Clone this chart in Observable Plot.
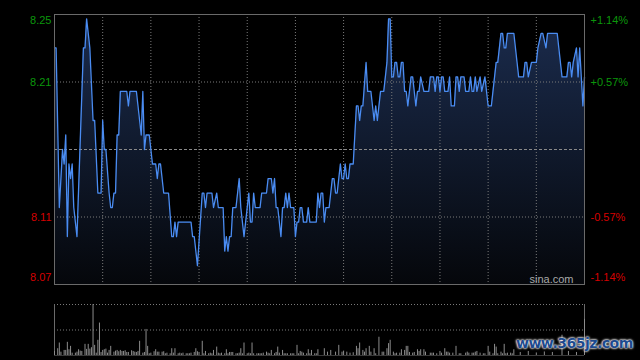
<!DOCTYPE html>
<html>
<head>
<meta charset="utf-8">
<script src="https://cdn.jsdelivr.net/npm/d3@7"></script>
<script src="https://cdn.jsdelivr.net/npm/@observablehq/plot@0.6"></script>
<style>
  html, body { margin: 0; padding: 0; background: #000; }
  #wrap { position: relative; width: 640px; height: 360px; background: #000; overflow: hidden; font-family: "Liberation Sans", Arial, sans-serif; }
  #price, #volume { position: absolute; left: 0; }
  #price { top: 0; }
  #volume { top: 290px; }
  #wm { position: absolute; left: 516px; top: 335px; font: bold 14px "DejaVu Sans", sans-serif; color: #1d4a8e;
        text-shadow: 0 0 2px #fff, 0 0 2px #fff, 0 0 3px #ddd; letter-spacing: -0.5px; white-space: nowrap; }
</style>
</head>
<body>
<div id="wrap">
  <div id="price"></div>
  <div id="volume"></div>
  <div id="wm">www.365jz.com</div>
</div>
<script>
// ---- data (HK session, minute index 0..330) ----
const prevClose = 8.16;
const pctLevels = [1.14, 0.57, -0.57, -1.14];
const priceTickLabels = ["8.25", "8.21", "8.11", "8.07"];
const pctTickLabels = ["+1.14%", "+0.57%", "-0.57%", "-1.14%"];
const gridMinutes = [30, 60, 90, 120, 150, 180, 210, 240, 270, 300];
const sessionMinutes = 330;

const minutes = [0,1,3,5,6,7,8,9,10,11,12,13,14,18,19,20,22,24,25,27,29,30,31,32,34,35,36,37,38,39,40,41,45,46,47,51,53,54,55,56,57,59,60,61,63,64,65,66,68,71,73,74,75,76,77,85,86,87,89,92,93,94,95,98,99,101,102,105,106,107,108,109,110,111,113,115,116,118,121,122,123,124,125,128,129,132,133,135,136,137,138,139,141,142,143,144,145,146,147,149,150,151,152,153,154,155,157,158,159,163,164,165,166,167,168,169,171,173,174,175,176,178,179,180,181,182,183,184,186,188,189,190,191,192,194,195,197,199,200,201,203,205,207,208,209,210,211,212,213,214,215,216,217,218,219,220,222,223,225,226,227,228,230,231,233,234,236,237,238,239,240,241,242,243,245,246,247,249,250,251,252,253,255,256,258,259,260,261,262,263,265,266,268,269,270,272,275,276,278,279,280,281,282,286,288,289,292,293,294,295,297,300,301,303,304,306,307,313,314,316,319,320,321,322,323,325,326,327,329,330];
const prices = [8.23,8.23,8.12,8.16,8.15,8.17,8.10,8.15,8.14,8.15,8.12,8.11,8.10,8.23,8.23,8.25,8.23,8.18,8.18,8.13,8.13,8.18,8.16,8.16,8.13,8.12,8.12,8.13,8.13,8.17,8.17,8.20,8.20,8.19,8.20,8.20,8.18,8.17,8.20,8.16,8.17,8.17,8.16,8.15,8.15,8.14,8.15,8.15,8.13,8.13,8.10,8.10,8.11,8.10,8.11,8.11,8.10,8.10,8.08,8.13,8.13,8.12,8.13,8.13,8.12,8.13,8.12,8.12,8.09,8.10,8.09,8.10,8.10,8.12,8.12,8.14,8.12,8.10,8.13,8.11,8.11,8.13,8.12,8.12,8.13,8.13,8.14,8.14,8.13,8.14,8.12,8.12,8.10,8.12,8.12,8.13,8.12,8.13,8.12,8.12,8.10,8.11,8.11,8.12,8.12,8.11,8.11,8.12,8.11,8.11,8.13,8.12,8.13,8.13,8.11,8.12,8.12,8.14,8.14,8.13,8.13,8.15,8.14,8.14,8.15,8.14,8.14,8.15,8.15,8.19,8.19,8.18,8.19,8.19,8.22,8.20,8.20,8.18,8.19,8.18,8.20,8.20,8.22,8.25,8.25,8.21,8.21,8.22,8.22,8.21,8.21,8.22,8.22,8.20,8.20,8.19,8.21,8.21,8.19,8.20,8.20,8.21,8.20,8.20,8.20,8.21,8.21,8.20,8.21,8.21,8.20,8.21,8.21,8.20,8.20,8.21,8.19,8.19,8.21,8.21,8.20,8.21,8.21,8.20,8.20,8.21,8.20,8.20,8.21,8.20,8.21,8.20,8.21,8.20,8.19,8.19,8.22,8.22,8.24,8.24,8.23,8.23,8.24,8.24,8.22,8.21,8.21,8.22,8.22,8.21,8.22,8.22,8.23,8.24,8.24,8.23,8.24,8.24,8.23,8.21,8.21,8.22,8.22,8.21,8.22,8.23,8.21,8.23,8.19,8.21];

// volume (thousand shares)
const volMinutes = [0,2,3,4,6,7,8,9,10,11,13,14,15,16,17,19,20,21,22,23,24,25,26,27,28,29,30,31,32,33,34,35,37,38,39,40,41,42,43,44,45,46,48,49,50,51,52,53,55,56,57,58,59,60,62,63,64,65,67,68,69,70,72,73,74,75,77,78,79,80,82,83,84,85,87,88,89,90,92,93,94,96,97,98,99,101,102,103,104,106,107,108,109,110,111,113,114,115,116,117,118,120,121,122,123,124,126,127,128,129,130,132,133,134,135,137,138,139,140,142,143,144,145,147,148,149,151,152,153,154,155,157,158,159,160,162,163,164,168,170,172,175,177,179,180,182,184,186,188,189,190,192,193,194,196,197,199,200,202,204,205,207,208,209,211,212,213,215,216,218,219,220,221,223,224,226,227,228,230,231,234,235,236,238,240,241,243,244,245,246,248,250,252,253,256,257,258,260,261,262,263,265,267,268,270,271,273,274,275,276,278,279,280,281,282,284,285,286,290,295,300,305,310,316,320,325,330];
const volumes = [80,134,246,66,100,100,260,114,180,46,46,66,114,86,80,220,120,220,126,154,1006,200,46,300,640,60,100,114,126,46,100,180,66,86,100,74,100,80,80,94,60,60,94,80,66,60,80,280,46,60,514,180,34,46,74,114,66,66,66,74,34,46,34,134,46,134,34,46,34,46,34,34,34,46,60,134,74,60,280,34,80,34,46,34,100,166,46,34,46,34,114,34,60,60,60,34,34,46,134,34,246,34,46,34,246,34,34,34,34,34,46,66,46,34,100,34,60,166,46,100,34,34,34,34,34,34,200,34,80,66,46,34,114,34,100,34,34,114,134,66,100,66,200,66,86,66,46,54,180,134,246,100,66,134,180,66,134,34,360,66,66,134,234,300,66,34,46,46,114,100,180,180,60,46,60,114,80,114,114,66,46,46,46,34,80,46,134,66,66,46,46,180,34,34,46,66,46,46,46,66,80,46,34,34,180,66,34,220,166,34,66,34,220,34,46,46,34,114,60,80,50,70,60,400,80,60,714];

// ---- derived tables ----
const priceData = minutes.map((m, i) => ({minute: m, price: prices[i]}));
const volData = volMinutes.map((m, i) => ({minute: m, vol: volumes[i]}));
const maxPct = pctLevels[0] / 100;
const yMin = prevClose * (1 - maxPct);
const yMax = prevClose * (1 + maxPct);
const levelData = pctLevels.map((p, i) => ({
  y: prevClose * (1 + p / 100),
  priceLabel: priceTickLabels[i],
  pctLabel: pctTickLabels[i],
  color: p > 0 ? "#0b960b" : "#d60000"
}));
const topLevel = levelData.slice(0, 1);
const midLevels = levelData.slice(1, -1);
const bottomLevel = levelData.slice(-1);
const innerLevels = midLevels.map(d => d.y);

const font = "Liberation Sans, Arial, sans-serif";

function levelLabels(data, dy) {
  return [
    Plot.text(data, {y: "y", text: "priceLabel", fill: "color", frameAnchor: "left", dx: -3, dy, textAnchor: "end", lineAnchor: "middle", fontSize: 11}),
    Plot.text(data, {y: "y", text: "pctLabel", fill: "color", frameAnchor: "right", dx: 6, dy, textAnchor: "start", lineAnchor: "middle", fontSize: 11})
  ];
}

const priceChart = Plot.plot({
  width: 640,
  height: 290,
  marginTop: 14,
  marginBottom: 6,
  marginLeft: 54,
  marginRight: 56,
  style: {background: "#000", color: "#fff", fontFamily: font, overflow: "visible"},
  x: {domain: [0, sessionMinutes], axis: null},
  y: {domain: [yMin, yMax], axis: null},
  marks: [
    Plot.areaY(priceData, {x: "minute", y1: yMin, y2: "price", fill: "url(#priceGrad)"}),
    Plot.ruleX(gridMinutes, {stroke: "#7a7a7a", strokeDasharray: "1,2"}),
    Plot.ruleY(innerLevels, {stroke: "#7a7a7a", strokeDasharray: "1,2"}),
    Plot.ruleY([prevClose], {stroke: "#8a8a8a", strokeDasharray: "3,2"}),
    Plot.line(priceData, {x: "minute", y: "price", stroke: "#4a8cf2", strokeWidth: 1.3}),
    Plot.frame({stroke: "#6a6a6a"}),
    ...levelLabels(topLevel, 6),
    ...levelLabels(midLevels, 0),
    ...levelLabels(bottomLevel, -7),
    Plot.text(["sina.com"], {frameAnchor: "bottom-right", dx: -11, dy: -5, textAnchor: "end", lineAnchor: "middle", fill: "#a8a8a8", fontSize: 11})
  ]
});
// gradient fill definition
{
  const svg = d3.select(priceChart);
  const g = svg.insert("defs", ":first-child").append("linearGradient")
    .attr("id", "priceGrad").attr("gradientUnits", "userSpaceOnUse")
    .attr("x1", 0).attr("y1", 14).attr("x2", 0).attr("y2", 284);
  g.append("stop").attr("offset", "0%").attr("stop-color", "#1b2c4e");
  g.append("stop").attr("offset", "100%").attr("stop-color", "#05070b");
}
document.getElementById("price").appendChild(priceChart);

const maxVol = d3.max(volumes);
const volumeChart = Plot.plot({
  width: 640,
  height: 70,
  marginTop: 14,
  marginBottom: 5,
  marginLeft: 54,
  marginRight: 56,
  style: {background: "#000", color: "#fff", fontFamily: font, overflow: "visible"},
  x: {domain: [0, sessionMinutes], axis: null},
  y: {domain: [0, maxVol], axis: null},
  marks: [
    Plot.ruleY([maxVol / 2, maxVol], {stroke: "#7a7a7a", strokeDasharray: "1,2"}),
    Plot.ruleX([0, sessionMinutes], {stroke: "#6a6a6a"}),
    Plot.ruleY([0], {stroke: "#3a3a3a"}),
    Plot.ruleX(volData, {x: "minute", y1: 0, y2: "vol", stroke: "#8c8c8c", strokeWidth: 1})
  ]
});
document.getElementById("volume").appendChild(volumeChart);
</script>
</body>
</html>
